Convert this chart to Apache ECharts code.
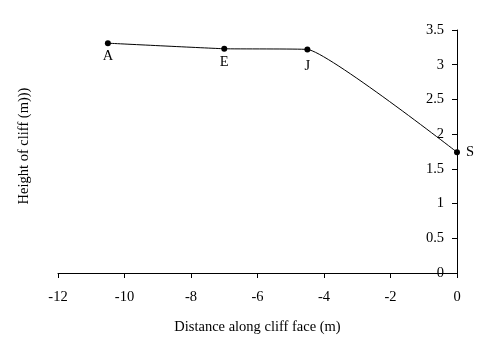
<!DOCTYPE html>
<html>
<head>
<meta charset="utf-8">
<script src="https://cdn.jsdelivr.net/npm/echarts@6/dist/echarts.min.js"></script>
<style>html,body{margin:0;padding:0;background:#fff;}#c{width:484px;height:357px;}</style>
</head>
<body>
<div id="c"></div>
<script>
const pointNames = ['A', 'E', 'J', 'S'];
const distances = [-10.5, -7.0, -4.5, 0];
const heights = [3.31, 3.23, 3.22, 1.74];
const xTitle = 'Distance along cliff face (m)';
const yTitle = 'Height of cliff (m)))';

const labelStyle = {
  A: { position: 'bottom', distance: 2 },
  E: { position: 'bottom', distance: 3 },
  J: { position: 'bottom', distance: 6 },
  S: { position: 'right', distance: 6 }
};

const font = 'Liberation Serif';
const fs = 14.5;
const data = distances.map((x, i) => ({
  value: [x, heights[i]],
  name: pointNames[i],
  label: Object.assign({ show: true, formatter: pointNames[i] }, labelStyle[pointNames[i]])
}));

const chart = echarts.init(document.getElementById('c'), null, { renderer: 'canvas' });
chart.setOption({
  animation: false,
  backgroundColor: '#fff',
  textStyle: { fontFamily: font, color: '#000' },
  grid: { left: 58, right: 27, top: 30, bottom: 84, containLabel: false },
  xAxis: {
    type: 'value', min: -12, max: 0, interval: 2,
    name: xTitle, nameLocation: 'middle', nameGap: 47,
    nameTextStyle: { fontFamily: font, fontSize: fs, color: '#000' },
    axisLine: { show: true, onZero: false, lineStyle: { color: '#000', width: 1 } },
    axisTick: { show: true, length: 5, lineStyle: { color: '#000' } },
    axisLabel: { fontFamily: font, fontSize: fs, color: '#000', margin: 17 },
    splitLine: { show: false }
  },
  yAxis: {
    type: 'value', min: 0, max: 3.5, interval: 0.5, position: 'right',
    axisLine: { show: true, onZero: false, lineStyle: { color: '#000', width: 1 } },
    axisTick: { show: true, inside: true, length: 5, lineStyle: { color: '#000' } },
    axisLabel: { inside: true, fontFamily: font, fontSize: fs, color: '#000', margin: 13 },
    splitLine: { show: false }
  },
  graphic: [{
    type: 'text',
    x: 24, y: 146,
    rotation: Math.PI / 2,
    style: { text: yTitle, font: fs + 'px "Liberation Serif"', fill: '#000', textAlign: 'center', textVerticalAlign: 'middle' }
  }],
  series: [{
    type: 'line',
    data: data,
    smooth: 0.12,
    symbol: 'circle', symbolSize: 6,
    itemStyle: { color: '#000' },
    lineStyle: { color: '#000', width: 1 },
    label: { fontFamily: font, fontSize: fs, color: '#000' }
  }]
});
</script>
</body>
</html>
